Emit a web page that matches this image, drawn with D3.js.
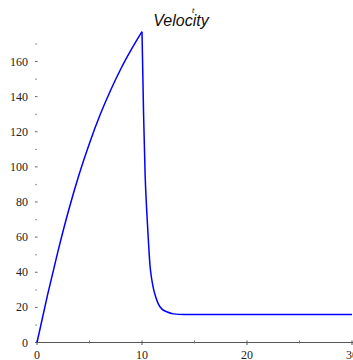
<!DOCTYPE html>
<html>
<head>
<meta charset="utf-8">
<title>Velocity</title>
<script src="https://d3js.org/d3.v7.min.js"></script>
<style>
  body { margin: 0; background: #fff; }
  svg { display: block; }
</style>
</head>
<body>
<script>
// time values (s)
const times = [0, 1, 2, 3, 4, 5, 6, 7, 8, 9, 10,
  10.15, 10.3, 10.45, 10.6, 10.76, 10.9, 11.08, 11.3, 11.55, 11.9, 12.35, 13, 14, 20, 30];
// velocity values
const velocity = [0, 27, 52, 75, 95.5, 113.5, 129.5, 143.5, 156, 167, 177,
  130, 95, 75, 59, 44, 37, 31, 26, 22, 19, 17.5, 16.3, 15.9, 15.9, 15.9];
const yMajor = [0, 20, 40, 60, 80, 100, 120, 140, 160];
const yMinor = [10, 30, 50, 70, 90, 110, 130, 150, 170];
const xMajor = [0, 10, 20, 30];
const xMinor = [5, 15, 25];

const w = 353, h = 360;
const x = d3.scaleLinear().domain([0, 30]).range([37, 352]);
const y = d3.scaleLinear().domain([0, 160]).range([342.5, 61.5]);

const svg = d3.select("body").append("svg")
  .attr("width", w).attr("height", h);

// x axis line
svg.append("line")
  .attr("x1", x(0)).attr("x2", w)
  .attr("y1", y(0)).attr("y2", y(0))
  .attr("stroke", "#555").attr("stroke-width", 1.2);

svg.selectAll(".xmaj").data(xMajor).enter().append("line")
  .attr("x1", d => x(d)).attr("x2", d => x(d))
  .attr("y1", y(0) - 2).attr("y2", y(0) + 2.5)
  .attr("stroke", "#555");
svg.selectAll(".xmin").data(xMinor).enter().append("line")
  .attr("x1", d => x(d)).attr("x2", d => x(d))
  .attr("y1", y(0) - 2).attr("y2", y(0) + 1)
  .attr("stroke", "#777");

svg.selectAll(".xlab").data(xMajor).enter().append("text")
  .attr("x", d => x(d)).attr("y", y(0) + 16)
  .attr("text-anchor", "middle")
  .style("font-family", "Liberation Serif, serif").style("font-size", "12px")
  .attr("fill", "#222")
  .text(d => d);

// y ticks (no axis line)
svg.selectAll(".ymaj").data(yMajor).enter().append("line")
  .attr("x1", 35).attr("x2", 37.5)
  .attr("y1", d => y(d)).attr("y2", d => y(d))
  .attr("stroke", "#666");
svg.selectAll(".ymin").data(yMinor).enter().append("rect")
  .attr("x", 35.5).attr("y", d => y(d) - 0.5)
  .attr("width", 1.2).attr("height", 1.2)
  .attr("fill", "#666");

svg.selectAll(".ylab").data(yMajor).enter().append("text")
  .attr("x", 28).attr("y", d => y(d) + 4)
  .attr("text-anchor", "end")
  .style("font-family", "Liberation Serif, serif").style("font-size", "12px")
  .attr("fill", "#222")
  .text(d => d);

// curve, drawn as rise + fall so the peak stays sharp
const pts = times.map((t, i) => [t, velocity[i]]);
const peak = d3.maxIndex(velocity);
const line = d3.line()
  .x(d => x(d[0])).y(d => y(d[1]))
  .curve(d3.curveMonotoneX);
svg.selectAll(".seg")
  .data([pts.slice(0, peak + 1), pts.slice(peak)])
  .enter().append("path")
  .attr("d", line)
  .attr("fill", "none")
  .attr("stroke", "#0000ff")
  .attr("stroke-width", 1.5)
  .attr("stroke-linejoin", "miter");

// title
svg.append("text")
  .attr("x", 181).attr("y", 26)
  .attr("text-anchor", "middle")
  .style("font-family", "Liberation Sans, Arial, sans-serif")
  .style("font-size", "16px").style("font-style", "italic")
  .attr("fill", "#111")
  .text("Velocity");
svg.append("text")
  .attr("x", 193).attr("y", 13)
  .attr("text-anchor", "middle")
  .style("font-family", "Liberation Sans, Arial, sans-serif")
  .style("font-size", "8px").style("font-style", "italic")
  .attr("fill", "#111")
  .text("t");
</script>
</body>
</html>
